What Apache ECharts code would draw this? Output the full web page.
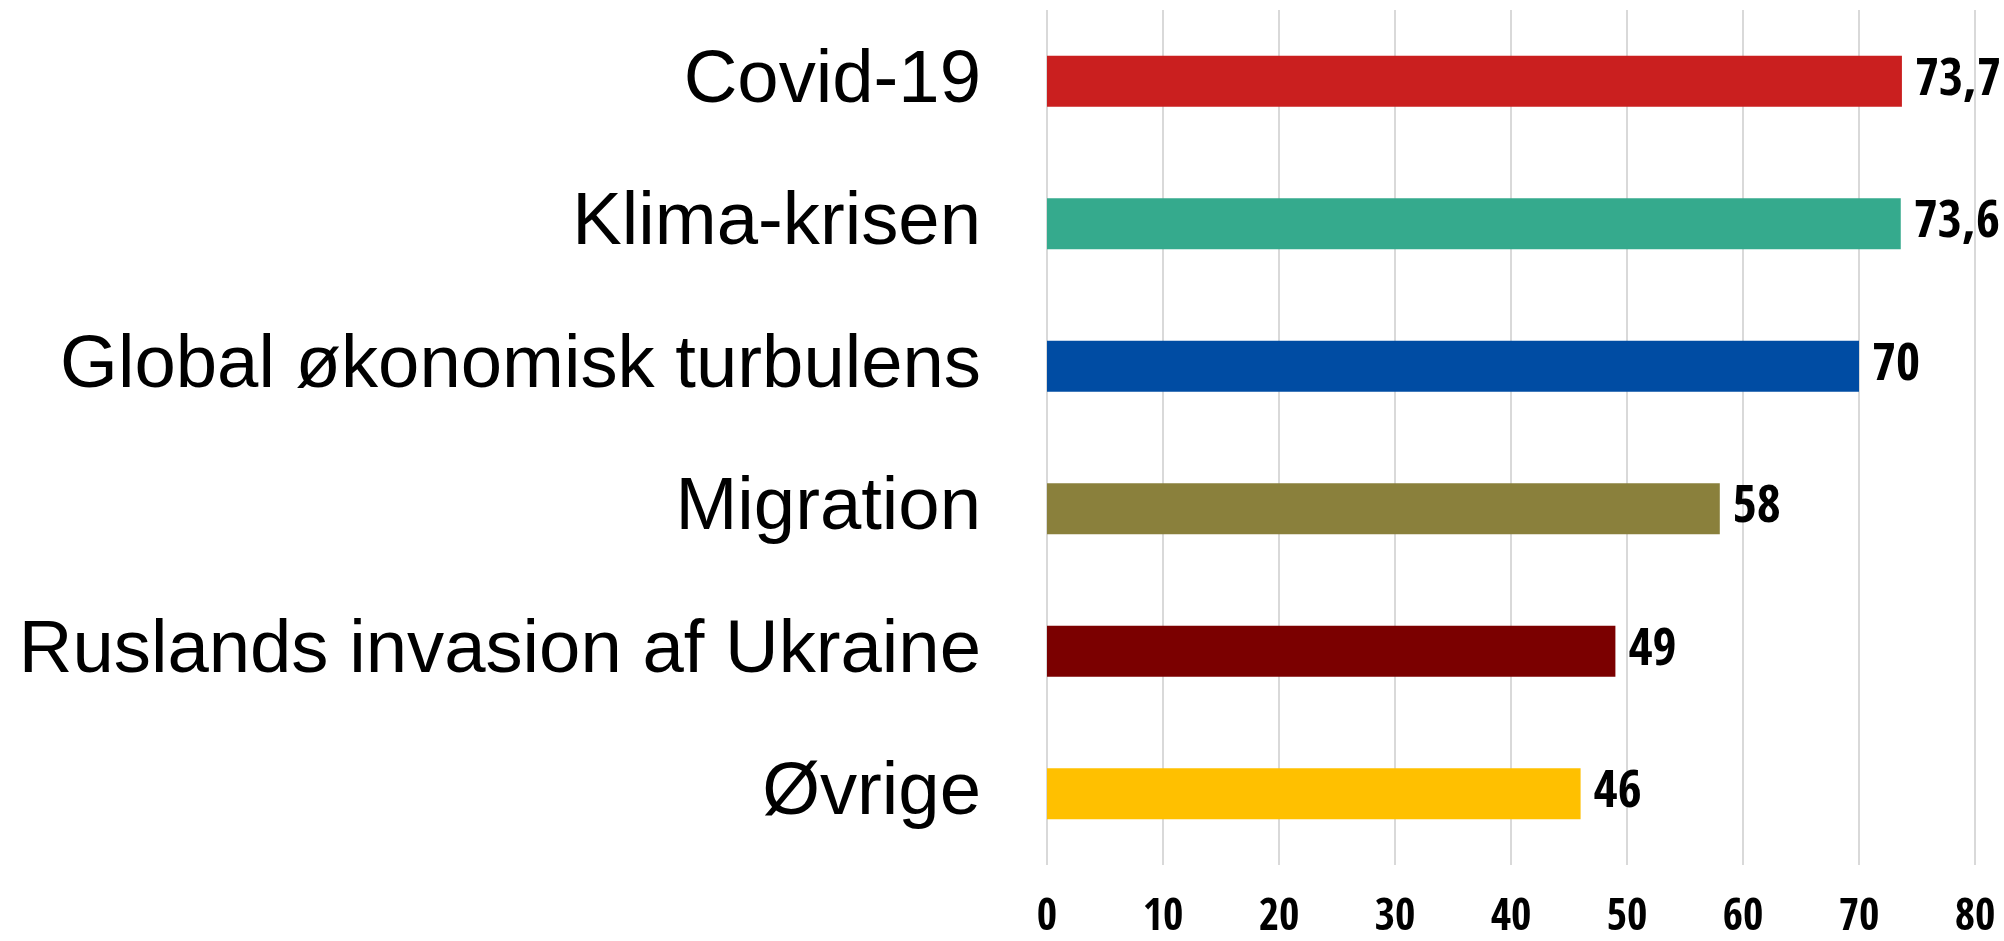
<!DOCTYPE html>
<html>
<head>
<meta charset="utf-8">
<script src="https://cdn.jsdelivr.net/npm/echarts@6/dist/echarts.min.js"></script>
<style>
html,body{margin:0;padding:0;background:#fff;}
#chart{width:2004px;height:941px;}
</style>
</head>
<body>
<div id="chart"></div>
<script>
const categories = ["Covid-19", "Klima-krisen", "Global økonomisk turbulens", "Migration", "Ruslands invasion af Ukraine", "Øvrige"];
const values = [73.7, 73.6, 70, 58, 49, 46];
const xTicks = [0, 10, 20, 30, 40, 50, 60, 70, 80];

const palette = ["#CA1F1F", "#35AA8D", "#004CA3", "#8A803C", "#7B0000", "#FFC000"];
const numFont = '"Open Sans Condensed", "Roboto Condensed", "DejaVu Sans Condensed", sans-serif';

const chart = echarts.init(document.getElementById('chart'), null, {renderer: 'canvas'});
chart.setOption({
  backgroundColor: '#ffffff',
  animation: false,
  grid: {left: 1047, right: 29, top: 10, bottom: 73, containLabel: false},
  xAxis: {
    type: 'value',
    min: xTicks[0],
    max: xTicks[xTicks.length - 1],
    interval: xTicks[1] - xTicks[0],
    axisLine: {show: false},
    axisTick: {show: false},
    splitLine: {show: true, lineStyle: {color: '#D9D9D9', width: 2}},
    axisLabel: {
      margin: 32,
      fontFamily: numFont,
      fontStyle: 'condensed',
      fontWeight: 'bold',
      fontSize: 44,
      color: '#000'
    }
  },
  yAxis: {
    type: 'category',
    data: categories,
    inverse: true,
    axisLine: {show: false},
    axisTick: {show: false},
    axisLabel: {
      margin: 66,
      fontFamily: '"Liberation Sans", Arial, sans-serif',
      fontSize: 74.3,
      color: '#000'
    }
  },
  series: [{
    type: 'bar',
    barWidth: 51,
    data: values.map((v, i) => ({value: v, itemStyle: {color: palette[i]}})),
    label: {
      show: true,
      position: 'right',
      distance: 13,
      fontFamily: numFont,
      fontStyle: 'condensed',
      fontWeight: 'bold',
      fontSize: 52,
      color: '#000',
      formatter: p => String(p.value).replace('.', ',')
    }
  }]
});
</script>
</body>
</html>
